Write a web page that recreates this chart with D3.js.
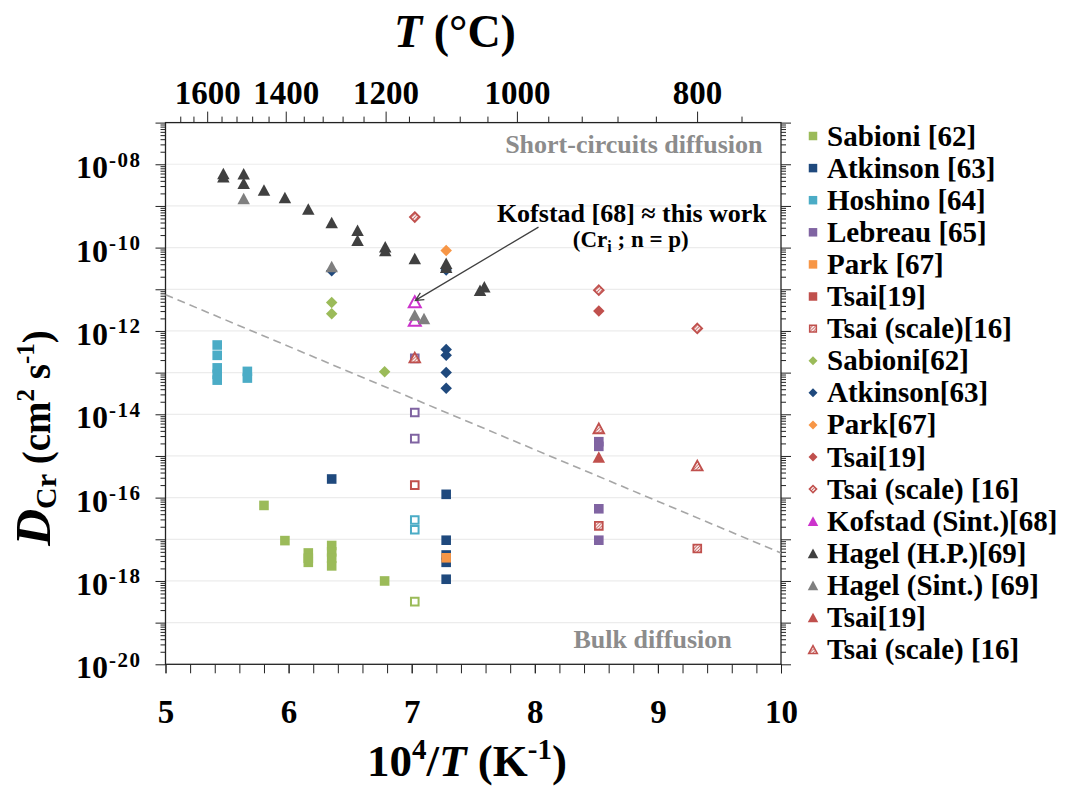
<!DOCTYPE html>
<html>
<head>
<meta charset="utf-8">
<script src="https://cdn.jsdelivr.net/npm/d3@7"></script>
<style>
  body { margin: 0; background: #fff; }
  svg text { font-family: "Liberation Serif", "Times New Roman", serif; font-weight: bold; fill: #000; }
</style>
</head>
<body>
<svg id="chart" width="1069" height="789"></svg>
<script>
// ---- Data: [10^4/T (K^-1), D_Cr (cm^2 s^-1)] ----
// squares
const sabioniSq   = [[5.80, 6.5e-17], [5.97, 9.3e-18], [6.16, 4.7e-18], [6.16, 3.5e-18], [6.16, 2.8e-18],
                     [6.35, 7.1e-18], [6.35, 5.0e-18], [6.35, 3.5e-18], [6.35, 2.3e-18], [6.78, 1.0e-18]];
const atkinsonSq  = [[6.35, 2.8e-16], [7.28, 1.2e-16], [7.28, 9.5e-18], [7.28, 4.2e-18], [7.28, 2.8e-18], [7.28, 1.1e-18]];
const hoshinoSq   = [[5.42, 4.6e-13], [5.42, 2.6e-13], [5.42, 1.3e-13], [5.42, 9.1e-14], [5.42, 6.6e-14],
                     [5.665, 1.07e-13], [5.665, 7.4e-14]];
const lebreauSq   = [[8.52, 2.2e-15], [8.52, 1.7e-15], [8.52, 5.4e-17], [8.52, 9.5e-18]];
const parkSq      = [[7.28, 3.6e-18]];
const tsaiScaleSq = [[8.52, 2.1e-17], [9.32, 6.0e-18]];
// open squares at 1150 °C
const lebreauOpen = [[7.025, 2.2e-13], [7.025, 1.1e-14], [7.025, 2.6e-15]];
const tsaiOpen    = [[7.025, 2.0e-16]];
const hoshinoOpen = [[7.025, 2.9e-17], [7.025, 1.7e-17]];
const sabioniOpen = [[7.025, 3.2e-19]];
// diamonds
const sabioniDia   = [[6.35, 4.8e-12], [6.35, 2.6e-12], [6.78, 1.05e-13]];
const atkinsonDia  = [[6.35, 2.8e-11], [7.28, 2.9e-11], [7.28, 3.6e-13], [7.28, 2.6e-13], [7.28, 1.0e-13], [7.28, 4.2e-14]];
const parkDia      = [[7.28, 8.5e-11]];
const tsaiDia      = [[8.52, 3.0e-12]];
const tsaiScaleDia = [[7.025, 5.4e-10], [8.52, 9.5e-12], [9.32, 1.15e-12]];
// triangles
const kofstadTri   = [[7.025, 5.0e-12], [7.025, 1.8e-12]];
const hagelHPTri   = [[5.47, 6.0e-9], [5.47, 5.0e-9], [5.635, 5.9e-9], [5.635, 3.5e-9], [5.80, 2.4e-9], [5.97, 1.6e-9],
                      [6.16, 8.5e-10], [6.35, 4.0e-10], [6.56, 2.6e-10], [6.56, 1.5e-10], [6.785, 1.05e-10], [6.785, 8.5e-11],
                      [7.025, 5.5e-11], [7.28, 4.2e-11], [7.28, 3.4e-11], [7.555, 9.5e-12], [7.59, 1.15e-11]];
const hagelSintTri = [[5.635, 1.5e-9], [6.35, 3.5e-11], [7.025, 2.4e-12], [7.10, 2.0e-12]];
const tsaiTri      = [[8.52, 9.5e-16]];
const tsaiScaleTri = [[7.025, 2.3e-13], [8.52, 4.6e-15], [9.32, 5.9e-16]];

// bulk / short-circuit boundary
const boundary = [[5, 7.4e-12], [10, 4.7e-18]];

// axes
const xTicks = [5, 6, 7, 8, 9, 10];
const yLabelExps = [-8, -10, -12, -14, -16, -18, -20];
const tempMajor = [1600, 1400, 1200, 1000, 800];
const tempMinorStep = 40;

const legendLabels = ["Sabioni [62]", "Atkinson [63]", "Hoshino [64]", "Lebreau [65]", "Park [67]", "Tsai[19]",
  "Tsai (scale)[16]", "Sabioni[62]", "Atkinson[63]", "Park[67]", "Tsai[19]", "Tsai (scale) [16]",
  "Kofstad (Sint.)[68]", "Hagel (H.P.)[69]", "Hagel (Sint.) [69]", "Tsai[19]", "Tsai (scale) [16]"];

// ---- Colours ----
const C = {
  sabioni: "#9bbb59", atkinson: "#1f497d", hoshino: "#4bacc6", lebreau: "#8064a2",
  park: "#f79646", tsai: "#c0504d", kofstad: "#cc33cc", hagelHP: "#404040", hagelSint: "#7f7f7f"
};

// series: legend index refers to legendLabels
const series = [
  { data: sabioniSq,   color: C.sabioni,  shape: "square", style: "fill",  legend: 0 },
  { data: atkinsonSq,  color: C.atkinson, shape: "square", style: "fill",  legend: 1 },
  { data: hoshinoSq,   color: C.hoshino,  shape: "square", style: "fill",  legend: 2 },
  { data: lebreauSq,   color: C.lebreau,  shape: "square", style: "fill",  legend: 3 },
  { data: parkSq,      color: C.park,     shape: "square", style: "fill",  legend: 4 },
  { data: [],          color: C.tsai,     shape: "square", style: "fill",  legend: 5 },
  { data: tsaiScaleSq, color: C.tsai,     shape: "square", style: "hatch", legend: 6 },
  { data: lebreauOpen, color: C.lebreau,  shape: "square", style: "open",  legend: null },
  { data: tsaiOpen,    color: C.tsai,     shape: "square", style: "open",  legend: null },
  { data: hoshinoOpen, color: C.hoshino,  shape: "square", style: "open",  legend: null },
  { data: sabioniOpen, color: C.sabioni,  shape: "square", style: "open",  legend: null },
  { data: sabioniDia,  color: C.sabioni,  shape: "diamond", style: "fill", legend: 7 },
  { data: atkinsonDia, color: C.atkinson, shape: "diamond", style: "fill", legend: 8 },
  { data: parkDia,     color: C.park,     shape: "diamond", style: "fill", legend: 9 },
  { data: tsaiDia,     color: C.tsai,     shape: "diamond", style: "fill", legend: 10 },
  { data: tsaiScaleDia,color: C.tsai,     shape: "diamond", style: "hatch", legend: 11 },
  { data: kofstadTri,  color: C.kofstad,  shape: "triangle", style: "open", legend: 12, legendStyle: "fill" },
  { data: hagelHPTri,  color: C.hagelHP,  shape: "triangle", style: "fill", legend: 13 },
  { data: hagelSintTri,color: C.hagelSint,shape: "triangle", style: "fill", legend: 14 },
  { data: tsaiTri,     color: C.tsai,     shape: "triangle", style: "fill", legend: 15 },
  { data: tsaiScaleTri,color: C.tsai,     shape: "triangle", style: "hatch", legend: 16 }
];

// ---- Layout ----
const W = 1069, H = 789;
const plot = { left: 165.5, right: 781, top: 122.6, bottom: 664.3 };

const x = d3.scaleLinear().domain([5, 10]).range([plot.left, plot.right]);
const y = d3.scaleLog().domain([1e-20, 1e-7]).range([plot.bottom, plot.top]);
const toInvT = c => 1e4 / (c + 273.15);

const svg = d3.select("#chart");
svg.append("rect").attr("width", W).attr("height", H).attr("fill", "#fff");

const defs = svg.append("defs");
const hatch = defs.append("pattern").attr("id", "hatch")
  .attr("patternUnits", "userSpaceOnUse").attr("width", 3.2).attr("height", 3.2);
hatch.append("rect").attr("width", 3.2).attr("height", 3.2).attr("fill", "#fff");
hatch.append("path").attr("d", "M-1,1 L1,-1 M0,3.2 L3.2,0 M2.2,4.2 L4.2,2.2")
  .attr("stroke", C.tsai).attr("stroke-width", 0.9);

// ---- Gridlines at every decade ----
const decades = d3.range(-19, -7).map(e => Math.pow(10, e));
svg.append("g").selectAll("line").data(decades).join("line")
  .attr("x1", plot.left).attr("x2", plot.right)
  .attr("y1", d => y(d)).attr("y2", d => y(d))
  .attr("stroke", "#ececec").attr("stroke-width", 1.2);

// ---- Axes ----
const minorY = [];
d3.range(-20, -7).forEach(e => d3.range(2, 10).forEach(m => minorY.push(m * Math.pow(10, e))));
const majorY = d3.range(-20, -6).map(e => Math.pow(10, e));

function styleAxis(g) {
  g.select(".domain").remove();
  g.selectAll(".tick line").attr("stroke", "#222").attr("stroke-width", 1);
}

svg.append("g").attr("transform", `translate(${plot.left},0)`)
  .call(d3.axisLeft(y).tickValues(minorY).tickSize(5).tickFormat("")).call(styleAxis);
svg.append("g").attr("transform", `translate(${plot.left},0)`)
  .call(d3.axisLeft(y).tickValues(majorY).tickSize(10).tickFormat("")).call(styleAxis);
svg.append("g").attr("transform", `translate(${plot.right},0)`)
  .call(d3.axisRight(y).tickValues(minorY).tickSize(5).tickFormat("")).call(styleAxis);
svg.append("g").attr("transform", `translate(${plot.right},0)`)
  .call(d3.axisRight(y).tickValues(majorY).tickSize(10).tickFormat("")).call(styleAxis);

// bottom: 10^4/T
svg.append("g").attr("transform", `translate(0,${plot.bottom})`)
  .call(d3.axisBottom(x).tickValues(d3.range(0, 26).map(i => 5 + i * 0.2)).tickSize(9).tickFormat(""))
  .call(styleAxis);
const bottomAxis = svg.append("g").attr("transform", `translate(0,${plot.bottom})`)
  .call(d3.axisBottom(x).tickValues(xTicks).tickSize(9).tickPadding(26).tickFormat(d3.format("d")))
  .call(styleAxis);
bottomAxis.selectAll("text").style("font-size", "33px");

// top: temperature in °C
const tempMinor = d3.range(1680, 759, -tempMinorStep).filter(c => !tempMajor.includes(c));
svg.append("g").attr("transform", `translate(0,${plot.top})`)
  .call(d3.axisTop(x).tickValues(tempMinor.map(toInvT)).tickSize(6).tickFormat(""))
  .call(styleAxis);
const topAxis = svg.append("g").attr("transform", `translate(0,${plot.top})`)
  .call(d3.axisTop(x).tickValues(tempMajor.map(toInvT)).tickSize(11).tickPadding(8)
    .tickFormat((d, i) => tempMajor[i]))
  .call(styleAxis);
topAxis.selectAll("text").style("font-size", "33px");

// frame
svg.append("rect")
  .attr("x", plot.left).attr("y", plot.top)
  .attr("width", plot.right - plot.left).attr("height", plot.bottom - plot.top)
  .attr("fill", "none").attr("stroke", "#222").attr("stroke-width", 1.3);

// y tick labels: 10^-08 ... 10^-20
const yLab = svg.append("g");
yLabelExps.forEach(e => {
  yLab.append("text").attr("x", 108).attr("y", y(Math.pow(10, e)) + 14)
    .attr("text-anchor", "end").style("font-size", "32px").text("10");
  const sup = e === -8 ? "-08" : String(e);
  yLab.append("text").attr("x", 109).attr("y", y(Math.pow(10, e)) + 2.5)
    .style("font-size", "21px").style("letter-spacing", "1.5px").text(sup);
});

// ---- rich text helper (sub/superscripts) ----
function richText(parent, parts, attrs) {
  const t = parent.append("text");
  Object.entries(attrs).forEach(([k, v]) => t.attr(k, v));
  let cur = 0;
  parts.forEach(p => {
    const shift = p.shift || 0;
    const ts = t.append("tspan").text(p.t).style("font-size", p.size + "px").attr("dy", shift - cur);
    if (p.italic) ts.style("font-style", "italic");
    cur = shift;
  });
  return t;
}

// axis titles
richText(svg, [
  { t: "D", size: 51, italic: true },
  { t: "Cr", size: 30, shift: 6 },
  { t: " (cm", size: 39, shift: 0 },
  { t: "2", size: 25, shift: -16 },
  { t: " s", size: 39, shift: 0 },
  { t: "-1", size: 25, shift: -16 },
  { t: ")", size: 39, shift: 0 }
], { transform: "translate(50,438) rotate(-90)", "text-anchor": "middle" });

richText(svg, [
  { t: "10", size: 45 },
  { t: "4", size: 29, shift: -17 },
  { t: "/", size: 45, shift: 0 },
  { t: "T", size: 45, italic: true },
  { t: " (K", size: 45 },
  { t: "-1", size: 29, shift: -17 },
  { t: ")", size: 45, shift: 0 }
], { x: 467, y: 776, "text-anchor": "middle" });

richText(svg, [
  { t: "T", size: 46, italic: true },
  { t: " (°C)", size: 46 }
], { x: 455, y: 47, "text-anchor": "middle" });

// ---- regime boundary ----
svg.append("path")
  .attr("d", d3.line().x(d => x(d[0])).y(d => y(d[1]))(boundary))
  .attr("fill", "none").attr("stroke", "#a6a6a6").attr("stroke-width", 1.6)
  .attr("stroke-dasharray", "8,5");

svg.append("text").attr("x", x(9.85)).attr("y", y(10 ** -7.74)).attr("text-anchor", "end")
  .style("font-size", "26px").style("fill", "#8c8c8c").text("Short-circuits diffusion");
svg.append("text").attr("x", x(9.6)).attr("y", y(10 ** -19.6)).attr("text-anchor", "end")
  .style("font-size", "26px").style("fill", "#8c8c8c").text("Bulk diffusion");

// ---- markers ----
function shapePath(shape, s) {
  const h = s / 2;
  if (shape === "square") return `M${-h},${-h}H${h}V${h}H${-h}Z`;
  if (shape === "diamond") return `M0,${-h}L${h},0L0,${h}L${-h},0Z`;
  const th = s * 0.92 / 2;
  return `M0,${-th}L${h},${th}L${-h},${th}Z`;
}
const markerSize = { square: 9.6, diamond: 11.5, triangle: 12.5 };
function applyStyle(sel, s, style, size) {
  if (style === "fill") {
    sel.attr("d", shapePath(s.shape, size)).attr("fill", s.color).attr("stroke", "none");
  } else if (style === "open") {
    sel.attr("d", shapePath(s.shape, size - 2)).attr("fill", "#fff")
      .attr("stroke", s.color).attr("stroke-width", 2);
  } else {
    sel.attr("d", shapePath(s.shape, size - 1.8)).attr("fill", "url(#hatch)")
      .attr("stroke", s.color).attr("stroke-width", 1.8);
  }
}

const marks = svg.append("g");
series.forEach(s => {
  const sel = marks.append("g").selectAll("path").data(s.data).join("path")
    .attr("transform", d => `translate(${x(d[0])},${y(d[1])})`);
  applyStyle(sel, s, s.style, markerSize[s.shape] + (s.shape === "triangle" && s.style === "open" ? 1.5 : 0));
});

// ---- annotation ----
const arrowFrom = [8.03, 3.1e-10], arrowTo = [7.03, 5.4e-12];
const ax1 = x(arrowFrom[0]), ay1 = y(arrowFrom[1]), ax2 = x(arrowTo[0]), ay2 = y(arrowTo[1]);
const ang = Math.atan2(ay2 - ay1, ax2 - ax1);
const hl = 9, hw = 0.45;
svg.append("path")
  .attr("d", `M${ax1},${ay1}L${ax2},${ay2}` +
    `M${ax2 - hl * Math.cos(ang - hw)},${ay2 - hl * Math.sin(ang - hw)}L${ax2},${ay2}` +
    `L${ax2 - hl * Math.cos(ang + hw)},${ay2 - hl * Math.sin(ang + hw)}`)
  .attr("fill", "none").attr("stroke", "#404040").attr("stroke-width", 1.3);

svg.append("text").attr("x", x(9.885)).attr("y", y(10 ** -9.39)).attr("text-anchor", "end")
  .style("font-size", "26px").text("Kofstad [68] ≈ this work");
richText(svg, [
  { t: "(Cr", size: 23 },
  { t: "i", size: 16, shift: 5 },
  { t: " ; n = p)", size: 23, shift: 0 }
], { x: x(8.78), y: y(10 ** -9.99), "text-anchor": "middle" });

// ---- legend ----
const legend = svg.append("g");
const legX = 813, legY0 = 136, legStep = 32.1;
series.filter(s => s.legend !== null).forEach(s => {
  const cy = legY0 + s.legend * legStep;
  const m = legend.append("path").attr("transform", `translate(${legX},${cy})`);
  const st = s.legendStyle || s.style;
  const size = { square: 8.5, diamond: 9, triangle: 10.5 }[s.shape];
  applyStyle(m, s, st, size);
  if (st === "hatch") m.attr("stroke-width", 1.5);
  legend.append("text").attr("x", 827).attr("y", cy + 9.5)
    .style("font-size", "29px").text(legendLabels[s.legend]);
});
</script>
</body>
</html>
